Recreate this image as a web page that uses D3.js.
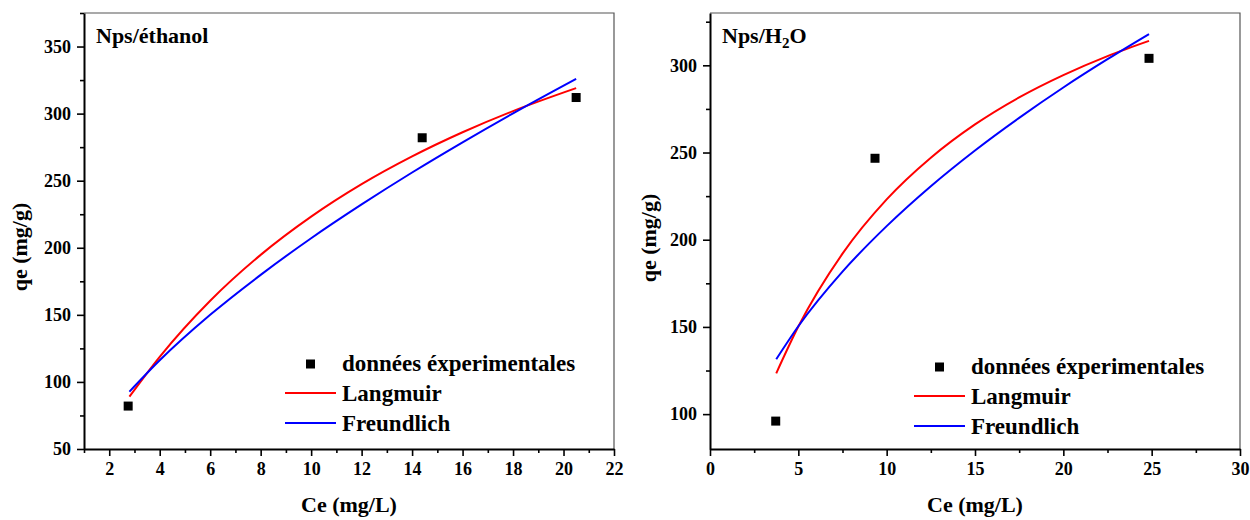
<!DOCTYPE html>
<html>
<head>
<meta charset="utf-8">
<title>Isothermes</title>
<script src="https://d3js.org/d3.v7.min.js"></script>
<style>
  body { margin: 0; background: #fff; }
  text { font-family: "Liberation Serif", "Times New Roman", serif; font-weight: bold; fill: #000; }
</style>
</head>
<body>
<div id="chart"></div>
<script>
// --- panel 1 : Nps/éthanol
const ceEth = [2.75, 14.4, 20.5];
const qeEth = [82, 282, 312];
const curveCeEth = [2.8, 4, 6, 8, 10, 12, 14, 16, 18, 20.5];
const langEth = [89, 118.7, 160.5, 194.7, 223.2, 247.4, 268.1, 286.1, 301.9, 319];
const freuEth = [92.7, 116.1, 150, 179.8, 207.1, 232.3, 256.1, 278.6, 300.2, 325.9];
const xTicksEth = [2, 4, 6, 8, 10, 12, 14, 16, 18, 20, 22];
const yTicksEth = [50, 100, 150, 200, 250, 300, 350];

// --- panel 2 : Nps/H2O
const ceH2O = [3.72, 9.34, 24.85];
const qeH2O = [96, 246.7, 304];
const curveCeH2O = [3.75, 5, 7.5, 10, 12.5, 15, 17.5, 20, 22.5, 24.85];
const langH2O = [123.4, 150.2, 192, 223.1, 247, 266.1, 281.6, 294.4, 305.3, 314];
const freuH2O = [131.5, 150.4, 181.7, 207.8, 230.7, 251.2, 269.9, 287.3, 303.5, 317.9];
const xTicksH2O = [0, 5, 10, 15, 20, 25, 30];
const yTicksH2O = [100, 150, 200, 250, 300];

const legendLabels = ["données éxperimentales", "Langmuir", "Freundlich"];

const svg = d3.select("#chart").append("svg")
    .attr("width", 1250)
    .attr("height", 520);

function drawPanel(p) {
    let g = svg.append("g").attr("transform", "translate(" + p.left + "," + p.top + ")");
    let w = p.w, h = p.h;

    let x = d3.scaleLinear().domain(p.xDomain).range([0, w]);
    let y = d3.scaleLinear().domain(p.yDomain).range([h, 0]);

    // cadre : haut et droite en gris fin
    g.append("path")
        .attr("d", "M0,0H" + w + "V" + h)
        .attr("fill", "none")
        .attr("stroke", "#555")
        .attr("stroke-width", 1.2);

    // ticks mineurs
    g.append("g")
        .attr("transform", "translate(0," + h + ")")
        .call(d3.axisBottom(x).tickValues(p.xMinor).tickSize(4).tickFormat(""))
        .call(a => a.select(".domain").remove());
    g.append("g")
        .call(d3.axisLeft(y).tickValues(p.yMinor).tickSize(4).tickFormat(""))
        .call(a => a.select(".domain").remove());

    // axes principaux
    let xa = g.append("g")
        .attr("transform", "translate(0," + h + ")")
        .call(d3.axisBottom(x).tickValues(p.xTicks).tickSize(7).tickSizeOuter(0).tickPadding(6));
    let ya = g.append("g")
        .call(d3.axisLeft(y).tickValues(p.yTicks).tickSize(7).tickSizeOuter(0).tickPadding(6));
    [xa, ya].forEach(a => {
        a.select(".domain").attr("stroke-width", 2);
        a.selectAll(".tick text")
            .attr("font-size", "18px")
            .attr("font-family", "Liberation Serif, serif")
            .attr("font-weight", "bold");
    });
    svg.selectAll(".tick line").attr("stroke-width", 1.6);

    // courbes
    let line = d3.line()
        .x(d => x(d[0]))
        .y(d => y(d[1]))
        .curve(d3.curveMonotoneX);
    g.append("path")
        .datum(p.curveCe.map((c, i) => [c, p.lang[i]]))
        .attr("d", line)
        .attr("fill", "none")
        .attr("stroke", "#ff0000")
        .attr("stroke-width", 2);
    g.append("path")
        .datum(p.curveCe.map((c, i) => [c, p.freu[i]]))
        .attr("d", line)
        .attr("fill", "none")
        .attr("stroke", "#0000ff")
        .attr("stroke-width", 2);

    // points expérimentaux
    g.selectAll("rect.pt")
        .data(p.ce.map((c, i) => [c, p.qe[i]]))
        .enter()
        .append("rect")
        .attr("class", "pt")
        .attr("x", d => x(d[0]) - 4.5)
        .attr("y", d => y(d[1]) - 4.5)
        .attr("width", 9)
        .attr("height", 9)
        .attr("fill", "#000");

    // titre
    let t = g.append("text")
        .attr("x", 12)
        .attr("y", 30)
        .attr("font-size", "22px");
    p.title(t);

    // légende
    let lg = g.append("g").attr("transform", "translate(" + p.legX + "," + p.legY + ")");
    lg.append("rect").attr("x", 21).attr("y", -4.5).attr("width", 9).attr("height", 9).attr("fill", "#000");
    lg.append("line").attr("x1", 0).attr("x2", 51).attr("y1", 29).attr("y2", 29)
        .attr("stroke", "#ff0000").attr("stroke-width", 2);
    lg.append("line").attr("x1", 0).attr("x2", 51).attr("y1", 59).attr("y2", 59)
        .attr("stroke", "#0000ff").attr("stroke-width", 2);
    lg.selectAll("text.lg")
        .data(legendLabels)
        .enter()
        .append("text")
        .attr("class", "lg")
        .attr("x", 57)
        .attr("y", (d, i) => 7 + i * 30)
        .attr("font-size", "23px")
        .text(d => d);

    // titres des axes
    g.append("text")
        .attr("x", w / 2)
        .attr("y", h + 63)
        .attr("text-anchor", "middle")
        .attr("font-size", "22px")
        .text("Ce (mg/L)");
    g.append("text")
        .attr("transform", "rotate(-90)")
        .attr("x", p.yLabelY)
        .attr("y", p.yLabelX)
        .attr("text-anchor", "middle")
        .attr("font-size", "22px")
        .text("qe (mg/g)");
}

drawPanel({
    left: 84, top: 13, w: 530, h: 436,
    xDomain: [1, 22], yDomain: [50, 375],
    xTicks: xTicksEth, yTicks: yTicksEth,
    xMinor: d3.range(1, 22, 2), yMinor: d3.range(75, 376, 50),
    ce: ceEth, qe: qeEth, curveCe: curveCeEth, lang: langEth, freu: freuEth,
    legX: 201, legY: 351, yLabelX: -57, yLabelY: -234,
    title: t => t.text("Nps/éthanol")
});

drawPanel({
    left: 710, top: 13, w: 530, h: 436,
    xDomain: [0, 30], yDomain: [80, 330],
    xTicks: xTicksH2O, yTicks: yTicksH2O,
    xMinor: d3.range(2.5, 30, 5), yMinor: d3.range(125, 330, 50),
    ce: ceH2O, qe: qeH2O, curveCe: curveCeH2O, lang: langH2O, freu: freuH2O,
    legX: 204, legY: 354, yLabelX: -54, yLabelY: -225,
    title: t => {
        t.append("tspan").text("Nps/H");
        t.append("tspan").attr("font-size", "15px").attr("dy", 5).text("2");
        t.append("tspan").attr("dy", -5).text("O");
    }
});
</script>
</body>
</html>
